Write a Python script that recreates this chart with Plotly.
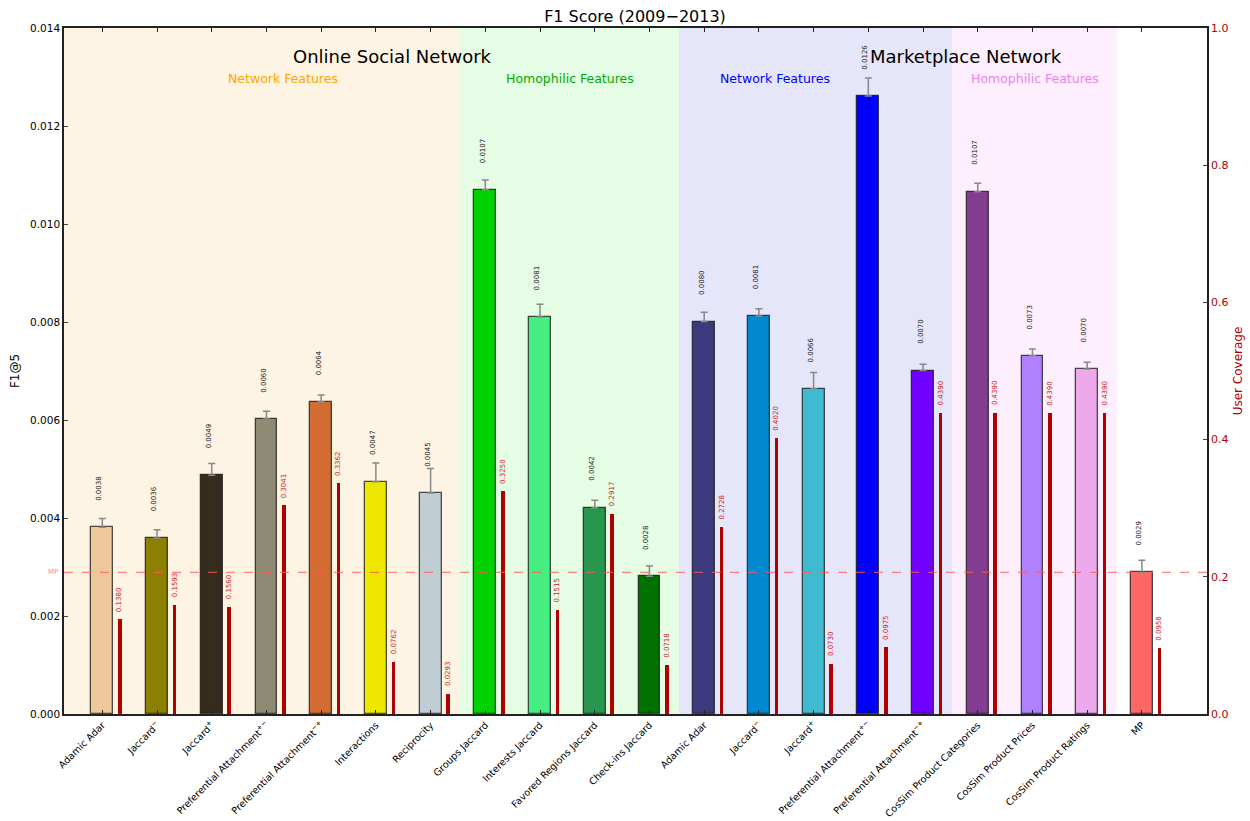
import plotly.graph_objects as go

categories = [
    "Adamic Adar", "Jaccard<sup>−</sup>", "Jaccard<sup>+</sup>",
    "Preferential Attachment<sup>+−</sup>", "Preferential Attachment<sup>−+</sup>",
    "Interactions", "Reciprocity", "Groups Jaccard", "Interests Jaccard",
    "Favored Regions Jaccard", "Check-ins Jaccard",
    "Adamic Adar", "Jaccard<sup>−</sup>", "Jaccard<sup>+</sup>",
    "Preferential Attachment<sup>+−</sup>", "Preferential Attachment<sup>−+</sup>",
    "CosSim Product Categories", "CosSim Product Prices", "CosSim Product Ratings", "MP",
]
f1_values = [0.00381, 0.00359, 0.00487, 0.00602, 0.00637, 0.00474, 0.00451,
             0.01070, 0.00810, 0.00421, 0.00281,
             0.00801, 0.00812, 0.00664, 0.01261, 0.00701,
             0.01066, 0.00731, 0.00704, 0.00289]
f1_errors = [0.00018, 0.00017, 0.00024, 0.00016, 0.00014, 0.00038, 0.00050,
             0.00020, 0.00026, 0.00015, 0.00021,
             0.00019, 0.00015, 0.00033, 0.00037, 0.00013,
             0.00017, 0.00014, 0.00014, 0.00025]
coverage = [0.1380, 0.1593, 0.1560, 0.3041, 0.3362, 0.0762, 0.0293,
            0.3250, 0.1515, 0.2917, 0.0718,
            0.2728, 0.4020, 0.0730, 0.0975, 0.4390,
            0.4390, 0.4390, 0.4390, 0.0958]
bar_colors = ["#EDC89A", "#8B8000", "#352C1D", "#8F8A73", "#D26C33", "#EEE800", "#BFCDD5",
              "#00D200", "#44EE80", "#28974D", "#007000",
              "#3C3A7C", "#0088D0", "#40BAD0", "#0000FF", "#7000FF",
              "#843C90", "#B080FF", "#EEA8EC", "#FF6666"]

# background sections: (start, end, fill)
section_spans = [(-0.7, 6.54, "#FEF4E4"), (6.54, 10.54, "#E4FDE4"),
                 (10.54, 15.54, "#E6E6FB"), (15.54, 18.54, "#FDEFFD")]
group_titles = [("Online Social Network", 5.3), ("Marketplace Network", 15.78)]
feature_titles = [("Network Features", 3.31, "#FFA500"), ("Homophilic Features", 8.55, "#00AA00"),
                  ("Network Features", 12.29, "#0000FF"), ("Homophilic Features", 17.04, "#EE82EE")]

idx = list(range(len(categories)))
cov_x = [i + 0.32 for i in idx]
mp_value = f1_values[-1]

fig = go.Figure()
fig.add_trace(go.Bar(
    x=idx, y=f1_values, width=0.4,
    marker=dict(color=bar_colors, line=dict(color="rgba(20,20,20,0.75)", width=1.3)),
    error_y=dict(type="data", array=f1_errors, arrayminus=[0] * len(f1_errors), symmetric=False,
                 color="#888888", thickness=1.5, width=3.5),
    showlegend=False, yaxis="y",
))
fig.add_trace(go.Bar(
    x=cov_x, y=coverage, width=0.065,
    marker=dict(color="#B00000", line=dict(width=0)),
    showlegend=False, yaxis="y2",
))

shapes = []
for x0, x1, c in section_spans:
    shapes.append(dict(type="rect", xref="x", yref="paper", x0=x0, x1=x1, y0=0, y1=1,
                       fillcolor=c, line=dict(width=0), layer="below"))
shapes.append(dict(type="line", xref="paper", yref="y", x0=0, x1=1, y0=mp_value, y1=mp_value,
                   line=dict(color="rgba(255,90,90,0.75)", width=1.2, dash="dash"), layer="above"))

annotations = []
for i, (v, c) in enumerate(zip(f1_values, coverage)):
    annotations.append(dict(x=i - 0.05, y=v + 0.0005, xref="x", yref="y", text=f"{v:.4f}",
                            textangle=-90, showarrow=False, xanchor="center", yanchor="bottom",
                            font=dict(size=7, color="#222222")))
    annotations.append(dict(x=i + 0.32, y=c + 0.008, xref="x", yref="y2", text=f"{c:.4f}",
                            textangle=-90, showarrow=False, xanchor="center", yanchor="bottom",
                            font=dict(size=7, color="#CC2222")))
for t, x in group_titles:
    annotations.append(dict(x=x, y=0.958, xref="x", yref="paper", text=t, showarrow=False,
                            yanchor="middle", font=dict(size=18, color="#000000")))
for t, x, c in feature_titles:
    annotations.append(dict(x=x, y=0.927, xref="x", yref="paper", text=t, showarrow=False,
                            yanchor="middle", font=dict(size=12.5, color=c)))
annotations.append(dict(x=0, y=mp_value, xref="paper", yref="y", text="MP", showarrow=False,
                        xanchor="right", yanchor="middle", xshift=-4,
                        font=dict(size=7, color="rgba(255,90,90,0.8)")))

fig.update_layout(
    width=1250, height=821,
    margin=dict(l=64, r=43, t=28, b=107),
    paper_bgcolor="white", plot_bgcolor="white",
    font=dict(family="DejaVu Sans", color="#000000"),
    title=dict(text="F1 Score (2009−2013)", x=0.508, xanchor="center", y=0.98, yanchor="middle",
               font=dict(size=16)),
    barmode="overlay",
    bargap=0,
    shapes=shapes, annotations=annotations,
    xaxis=dict(range=[-0.7, 20.19], tickmode="array", tickvals=idx, ticktext=categories,
               tickangle=-45, tickfont=dict(size=9.6), showgrid=False, zeroline=False,
               showline=True, linecolor="#222222", linewidth=1.5, mirror="ticks",
               ticks="inside", ticklen=4, tickcolor="#222222", automargin=False),
    yaxis=dict(range=[0, 0.014], tickmode="array",
               tickvals=[0, 0.002, 0.004, 0.006, 0.008, 0.010, 0.012, 0.014],
               tickformat=".3f", tickfont=dict(size=10.5), showgrid=False, zeroline=False,
               showline=True, linecolor="#222222", linewidth=1.5, ticks="inside", ticklen=4,
               automargin=False,
               title=dict(text="F1@5", font=dict(size=12), standoff=8)),
    yaxis2=dict(range=[0, 1.0], overlaying="y", side="right", tickmode="array",
                tickvals=[0, 0.2, 0.4, 0.6, 0.8, 1.0], tickformat=".1f",
                tickfont=dict(size=11, color="#B00000"), showgrid=False, zeroline=False,
                showline=True, linecolor="#222222", linewidth=1.5, ticks="inside", ticklen=4,
                automargin=False,
                title=dict(text="User Coverage", font=dict(size=12, color="#B00000"), standoff=6)),
)

fig.write_html("out.html")
